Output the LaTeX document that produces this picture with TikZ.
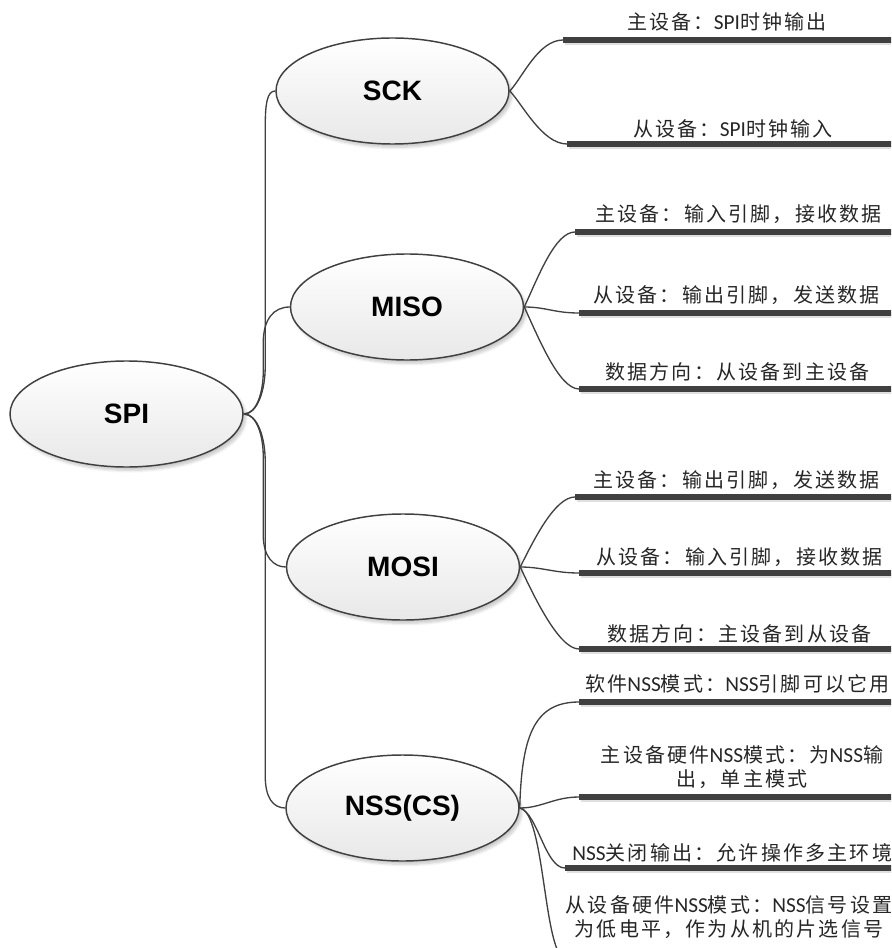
\documentclass[tikz,border=0pt]{standalone}
\usepackage{fontspec}
\setmainfont{Liberation Sans}
\newfontfamily\cjk[LetterSpace=11]{Noto Sans CJK SC}
\newfontfamily\latfont{Carlito}
\newcommand\lt[1]{{\latfont\fontsize{16}{18}\selectfont #1}}
\usetikzlibrary{shapes.geometric,calc,shadows.blur}

\begin{document}
\begin{tikzpicture}[x=0.75pt,y=-0.75pt,
  topic/.style={ellipse, draw=black!75, line width=1.1pt,
    top color=white, bottom color=black!9,
    minimum width=174.75pt, minimum height=79.5pt, inner sep=0pt,
    font=\fontsize{21}{25}\selectfont\bfseries, text=black,
    blur shadow={shadow xshift=2pt, shadow yshift=-2.5pt, shadow blur steps=6, shadow opacity=22}},
  link/.style={draw=black!75, line width=1pt},
  bar/.style={draw=black!75, line width=3.9pt},
  barshade/.style={draw=black!12, line width=2.5pt},
  leaf/.style={font=\cjk\fontsize{15}{18}\selectfont, text=black!85, inner sep=0pt, align=center}]

\useasboundingbox (0,0) rectangle (891,948);
\clip (0,0) rectangle (891,948);

% main topics
\node[topic] (spi)  at (126.5,414) {SPI};
\node[topic] (sck)  at (392.5,91)  {SCK};
\node[topic] (miso) at (407,307)   {MISO};
\node[topic] (mosi) at (403,567)   {MOSI};
\node[topic] (nss)  at (402.5,808) {NSS(CS)};

% trunk from SPI to the four topics
\coordinate (trA) at ($(spi.east)+(21.5,0)$);
\coordinate (trB) at ($(spi.east)+(19.5,0)$);
\draw[link] (spi.east) .. controls +(14,0) and +(0,24) .. ($(trA)+(0,-48)$)
  -- ($(trA |- sck.west)+(0,36)$) .. controls +(0,-24) and +(-8,0) .. (sck.west);
\draw[link] (spi.east) .. controls +(13,0) and +(0,20) .. ($(trB)+(0,-42)$)
  -- ($(trB |- miso.west)+(0,36)$) .. controls +(0,-24) and +(-16,0) .. (miso.west);
\draw[link] (spi.east) .. controls +(13,0) and +(0,-20) .. ($(trB)+(0,42)$)
  -- ($(trB |- mosi.west)+(0,-32)$) .. controls +(0,22) and +(-12,0) .. (mosi.west);
\draw[link] (spi.east) .. controls +(14,0) and +(0,-24) .. ($(trA)+(0,48)$)
  -- ($(trA |- nss.west)+(0,-32)$) .. controls +(0,22) and +(-12,0) .. (nss.west);

% left ends of the leaf bars
\coordinate (edge) at (900,0);
\coordinate (b1)  at (563,40);
\coordinate (b2)  at (567,144);
\coordinate (b3)  at (575,232);
\coordinate (b4)  at (579,313);
\coordinate (b5)  at (579,389);
\coordinate (b6)  at (575,497);
\coordinate (b7)  at (579,573);
\coordinate (b8)  at (579,649);
\coordinate (b9)  at (579,702);
\coordinate (b10) at (579,797);
\coordinate (b11) at (565,868);
\coordinate (b12) at (567,960);

\foreach \b in {b1,b2,b3,b4,b5,b6,b7,b8,b9,b10,b11,b12}{
  \draw[barshade] ($(\b)+(2,3.5)$) -- ($(\b -| edge)+(0,3.5)$);
  \draw[bar] (\b) -- (\b -| edge);
}

% leaf texts
\node[leaf, anchor=west] (t1)  at (627,22)  {主设备：\lt{SPI}时钟输出};
\node[leaf, anchor=west] (t2)  at (633,129) {从设备：\lt{SPI}时钟输入};
\node[leaf, anchor=west] (t3)  at (595,214) {主设备：输入引脚，接收数据};
\node[leaf, anchor=west] (t4)  at (593,295) {从设备：输出引脚，发送数据};
\node[leaf, anchor=west] (t5)  at (605,372) {数据方向：从设备到主设备};
\node[leaf, anchor=west] (t6)  at (593,480) {主设备：输出引脚，发送数据};
\node[leaf, anchor=west] (t7)  at (596,557) {从设备：输入引脚，接收数据};
\node[leaf, anchor=west] (t8)  at (607,634) {数据方向：主设备到从设备};
\node[leaf, anchor=west] (t9)  at (585,684) {软件\lt{NSS}模式：\lt{NSS}引脚可以它用};
\node[leaf] (t10) at (742,767) {主设备硬件\lt{NSS}模式：为\lt{NSS}输\\出，单主模式};
\node[leaf, anchor=west] (t11) at (572,853) {\lt{NSS}关闭输出：允许操作多主环境};
\node[leaf] (t12) at (729,917.5) {从设备硬件\lt{NSS}模式：\lt{NSS}信号设置\\为低电平，作为从机的片选信号};

% topic to leaf connectors
\draw[link] (sck.east) .. controls +(12,-12) and +(-25,0) .. (b1);
\draw[link] (sck.east) .. controls +(12,12) and +(-25,0) .. (b2);
\draw[link] (miso.east) .. controls +(14,-30) and +(-20,0) .. (b3);
\draw[link] (miso.east) .. controls +(22,0) and +(-25,0) .. (b4);
\draw[link] (miso.east) .. controls +(14,30) and +(-20,0) .. (b5);
\draw[link] (mosi.east) .. controls +(14,-28) and +(-20,0) .. (b6);
\draw[link] (mosi.east) .. controls +(22,0) and +(-25,0) .. (b7);
\draw[link] (mosi.east) .. controls +(14,30) and +(-20,0) .. (b8);
\draw[link] (nss.east) .. controls +(2,-72) and +(-45,0) .. (b9);
\draw[link] (nss.east) .. controls +(22,0) and +(-25,0) .. (b10);
\draw[link] (nss.east) .. controls +(18,5) and +(-20,0) .. (b11);
\draw[link] (nss.east) .. controls +(26,4) and +(-24,0) .. (b12);
\end{tikzpicture}
\end{document}
